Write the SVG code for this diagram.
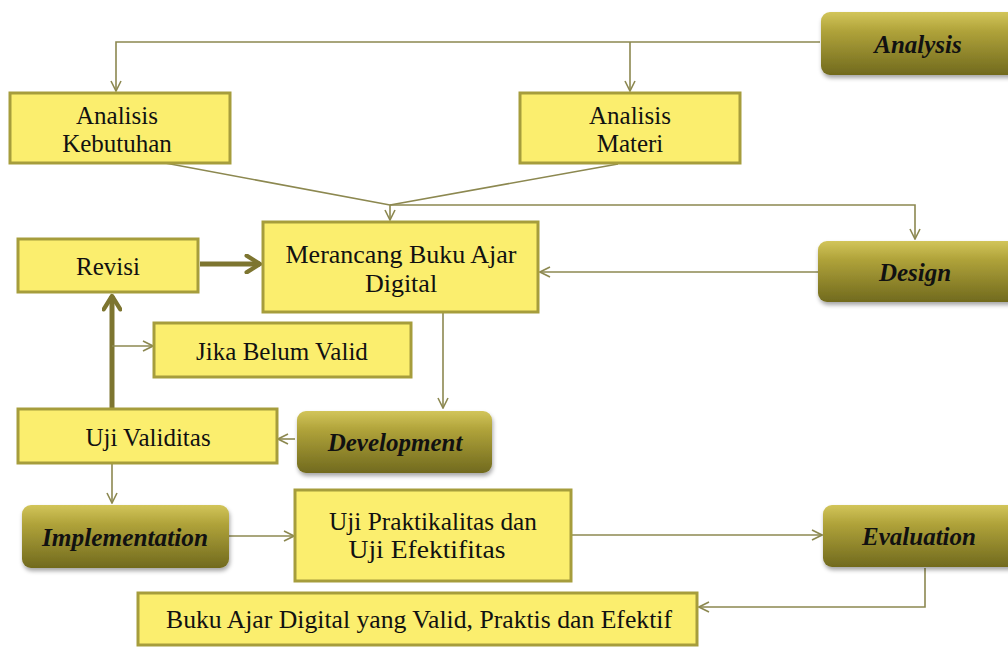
<svg xmlns="http://www.w3.org/2000/svg" width="1008" height="648" viewBox="0 0 1008 648">
<defs>
<linearGradient id="olive" x1="0" y1="0" x2="0" y2="1">
<stop offset="0" stop-color="#d2c55a"/>
<stop offset="0.3" stop-color="#b0a33a"/>
<stop offset="1" stop-color="#716a1e"/>
</linearGradient>
<filter id="sh" x="-10%" y="-10%" width="130%" height="140%">
<feDropShadow dx="1" dy="3" stdDeviation="2" flood-color="#000" flood-opacity="0.35"/>
</filter>
<marker id="a" viewBox="0 0 12 12" refX="11" refY="6" markerWidth="12" markerHeight="12" markerUnits="userSpaceOnUse" orient="auto">
<path d="M1,1 L11,6 L1,11" fill="none" stroke="#8c8850" stroke-width="1.6"/>
</marker>
<marker id="A" viewBox="0 0 12 12" refX="10" refY="6" markerWidth="20" markerHeight="20" markerUnits="userSpaceOnUse" orient="auto">
<path d="M2,1 L10,6 L2,11" fill="none" stroke="#7d7530" stroke-width="2.6" stroke-linecap="round" stroke-linejoin="round"/>
</marker>
</defs>
<style>
.y{fill:#fbee6e;stroke:#a69d3c;stroke-width:3}
.o{fill:url(#olive);filter:url(#sh)}
.t{font-family:"Liberation Serif","Times New Roman",serif;font-size:25px;fill:#111;text-anchor:middle}
.b{font-family:"Liberation Serif","Times New Roman",serif;font-size:25px;font-weight:bold;font-style:italic;fill:#111;text-anchor:middle}
.c{fill:none;stroke:#8c8850;stroke-width:1.6}
.k{fill:none;stroke:#7d7530;stroke-width:5}
</style>
<g id="connectors">
<polyline class="c" points="820,42 116,42 116,91" marker-end="url(#a)"/>
<line class="c" x1="630" y1="42" x2="630" y2="91" marker-end="url(#a)"/>
<line class="c" x1="165" y1="163" x2="390" y2="205"/>
<line class="c" x1="618" y1="164" x2="390" y2="205"/>
<line class="c" x1="390" y1="205" x2="390" y2="220" marker-end="url(#a)"/>
<polyline class="c" points="390,205 915,205 915,239" marker-end="url(#a)"/>
<line class="c" x1="818" y1="272" x2="540" y2="272" marker-end="url(#a)"/>
<line class="k" x1="200" y1="264" x2="260" y2="264" marker-end="url(#A)"/>
<line class="k" x1="112" y1="408" x2="112" y2="296" marker-end="url(#A)"/>
<line class="c" x1="112" y1="346" x2="153" y2="346" marker-end="url(#a)"/>
<line class="c" x1="443" y1="313" x2="443" y2="408" marker-end="url(#a)"/>
<line class="c" x1="295" y1="439" x2="278" y2="439" marker-end="url(#a)"/>
<line class="c" x1="112" y1="464" x2="112" y2="503" marker-end="url(#a)"/>
<line class="c" x1="229" y1="536" x2="294" y2="536" marker-end="url(#a)"/>
<line class="c" x1="571" y1="535" x2="822" y2="535" marker-end="url(#a)"/>
<polyline class="c" points="925,568 925,607 699,607" marker-end="url(#a)"/>
</g>
<g id="analysis"><rect class="o" x="821" y="12" width="200" height="63" rx="9"/><text class="b" x="918" y="53">Analysis</text></g>
<g id="analisis-kebutuhan"><rect class="y" x="10" y="93" width="220" height="70"/><text class="t" x="117" y="124">Analisis</text><text class="t" x="117" y="152">Kebutuhan</text></g>
<g id="analisis-materi"><rect class="y" x="520" y="93" width="220" height="70"/><text class="t" x="630" y="124">Analisis</text><text class="t" x="630" y="152">Materi</text></g>
<g id="merancang"><rect class="y" x="263" y="222" width="275" height="90"/><text class="t" x="401" y="263" style="font-size:26px">Merancang Buku Ajar</text><text class="t" x="401" y="292" style="font-size:26px">Digital</text></g>
<g id="design"><rect class="o" x="818" y="241" width="200" height="61" rx="9"/><text class="b" x="915" y="281">Design</text></g>
<g id="revisi"><rect class="y" x="18" y="239" width="180" height="53"/><text class="t" x="108" y="275">Revisi</text></g>
<g id="jika"><rect class="y" x="154" y="323" width="257" height="54"/><text class="t" x="282" y="360">Jika Belum Valid</text></g>
<g id="uji-validitas"><rect class="y" x="18" y="409" width="259" height="54"/><text class="t" x="148" y="446">Uji Validitas</text></g>
<g id="development"><rect class="o" x="297" y="411" width="195" height="62" rx="9"/><text class="b" x="395" y="451">Development</text></g>
<g id="implementation"><rect class="o" x="22" y="505" width="207" height="63" rx="9"/><text class="b" x="125" y="546" textLength="166" lengthAdjust="spacingAndGlyphs">Implementation</text></g>
<g id="uji-praktikalitas"><rect class="y" x="295" y="490" width="276" height="91"/><text class="t" x="433" y="530" style="font-size:26px" textLength="208" lengthAdjust="spacingAndGlyphs">Uji Praktikalitas dan</text><text class="t" x="427" y="558" style="font-size:26px" textLength="157" lengthAdjust="spacingAndGlyphs">Uji Efektifitas</text></g>
<g id="evaluation"><rect class="o" x="823" y="505" width="200" height="62" rx="9"/><text class="b" x="919" y="545" textLength="114" lengthAdjust="spacingAndGlyphs">Evaluation</text></g>
<g id="buku"><rect class="y" x="138" y="593" width="559" height="52"/><text class="t" x="419" y="628" textLength="506" lengthAdjust="spacingAndGlyphs">Buku Ajar Digital yang Valid, Praktis dan Efektif</text></g>
</svg>
